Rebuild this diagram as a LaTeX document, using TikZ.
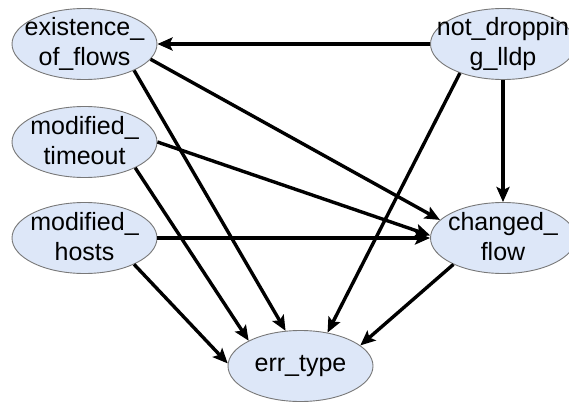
\documentclass[tikz,border=0pt]{standalone}
\usepackage{fontspec}
\setmainfont{Liberation Sans}
\usetikzlibrary{shapes.geometric,arrows.meta}
\definecolor{nodefill}{RGB}{221,231,248}
\definecolor{nodeline}{RGB}{120,120,120}
% fixed line strut so every label sits at the same height
\newcommand\lnstrut{\rule[-8pt]{0pt}{30pt}}
\tikzset{
  var/.style={ellipse, draw=nodeline, line width=0.9pt, fill=nodefill,
    minimum width=145pt, minimum height=71pt, inner sep=0pt},
  lbl/.style={align=center, inner sep=0pt,
    font=\fontsize{25pt}{30pt}\selectfont},
  edge/.style={line width=3.4pt, draw=black,
    -{Stealth[length=15pt,width=13pt,inset=3pt]}}
}
\begin{document}
\begin{tikzpicture}[x=1pt,y=-1pt]
  \useasboundingbox (0,0) rectangle (569,401);

  % variables
  \node[var] (E) at (84.5,44) {};
  \node[var] (T) at (84.5,142) {};
  \node[var] (H) at (84.5,238) {};
  \node[var] (N) at (503,44) {};
  \node[var] (C) at (503,238) {};
  \node[var] (R) at (300.5,366) {};

  % dependencies
  \draw[edge] (N.180) -- (E.0);
  \draw[edge] (E.-13) -- (C.164);
  \draw[edge] (E.-28) -- (R.113);
  \draw[edge] (T.0) -- (C.178);
  \draw[edge] (T.-27) -- (R.154);
  \draw[edge] (H.0) -- (C.180);
  \draw[edge] (H.-28) -- (R.178);
  \draw[edge] (N.-146) -- (R.51);
  \draw[edge] (N.-90) -- (C.90);
  \draw[edge] (C.-152) -- (R.19);

  % labels
  \node[lbl] (Et) at (E) {\lnstrut existence\_\\\lnstrut of\_flows};
  \node[lbl] (Tt) at (T) {\lnstrut modified\_\\\lnstrut timeout};
  \node[lbl] (Ht) at (H) {\lnstrut modified\_\\\lnstrut hosts};
  \node[lbl] (Nt) at (N) {\lnstrut not\_droppin\\\lnstrut g\_lldp};
  \node[lbl] (Ct) at (C) {\lnstrut changed\_\\\lnstrut flow};
  \node[lbl, yshift=2pt] (Rt) at (R) {\lnstrut err\_type};
\end{tikzpicture}
\end{document}
